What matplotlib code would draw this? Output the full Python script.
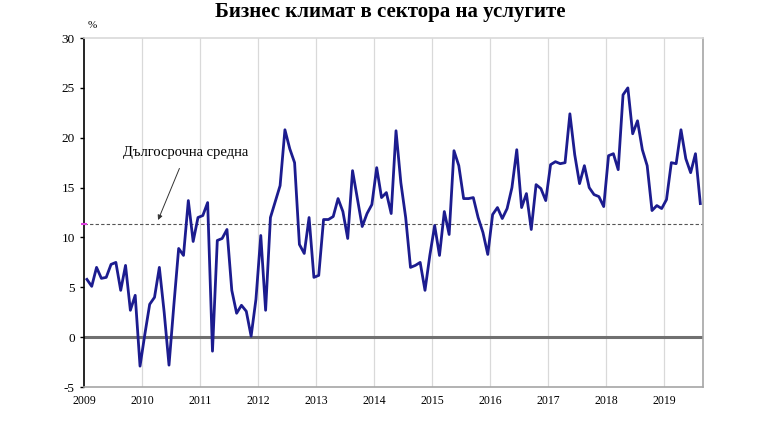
import numpy as np
import matplotlib
matplotlib.use("Agg")
import matplotlib.pyplot as plt

# monthly values, Jan 2009 .. Aug 2019
y2009 = [5.8, 5.1, 7.0, 5.9, 6.0, 7.3, 7.5, 4.7, 7.2, 2.7, 4.2, -2.9]
y2010 = [0.3, 3.3, 4.0, 7.0, 2.5, -2.8, 3.2, 8.9, 8.2, 13.7, 9.6, 12.0]
y2011 = [12.2, 13.5, -1.4, 9.7, 9.9, 10.8, 4.7, 2.4, 3.2, 2.6, 0.1, 3.8]
y2012 = [10.2, 2.7, 12.0, 13.6, 15.2, 20.8, 18.9, 17.5, 9.3, 8.4, 12.0, 6.0]
y2013 = [6.2, 11.8, 11.8, 12.1, 13.9, 12.6, 9.9, 16.7, 13.9, 11.1, 12.4, 13.3]
y2014 = [17.0, 14.0, 14.5, 12.4, 20.7, 15.5, 12.0, 7.0, 7.2, 7.5, 4.7, 8.2]
y2015 = [11.2, 8.2, 12.6, 10.3, 18.7, 17.2, 13.9, 13.9, 14.0, 12.0, 10.5, 8.3]
y2016 = [12.3, 13.0, 11.9, 12.9, 15.0, 18.8, 13.0, 14.4, 10.8, 15.3, 14.9, 13.7]
y2017 = [17.3, 17.6, 17.4, 17.5, 22.4, 18.3, 15.4, 17.2, 15.0, 14.3, 14.1, 13.1]
y2018 = [18.2, 18.4, 16.8, 24.3, 25.0, 20.4, 21.7, 18.8, 17.2, 12.7, 13.2, 12.9]
y2019 = [13.8, 17.5, 17.4, 20.8, 17.9, 16.5, 18.4, 13.4]

long_term_avg = 11.4
years = list(range(2009, 2020))
title = "Бизнес климат в сектора на услугите"
note = "Дългосрочна средна"

values = y2009 + y2010 + y2011 + y2012 + y2013 + y2014 + y2015 + y2016 + y2017 + y2018 + y2019
x = 2009 + (np.arange(len(values)) + 0.5) / 12.0

serif = ["Liberation Serif", "DejaVu Serif"]
plt.rcParams["axes.unicode_minus"] = False

fig = plt.figure(figsize=(7.68, 4.32), dpi=100)
ax = fig.add_axes([0.110, 0.104, 0.805, 0.808])

for yr in years[1:]:
    ax.axvline(yr, color="#d9d9d9", lw=0.9, zorder=0)

ax.axhline(0, color="#707070", lw=2.2, zorder=1)
ax.axhline(long_term_avg, color="#555555", lw=0.8, ls=(0, (3, 2)), zorder=1)
ax.plot(x, values, color="#1c1c8f", lw=2.0, solid_joinstyle="round", zorder=3)
ax.plot([2009], [long_term_avg], marker="_", color="#e040e0", ms=5, mew=1.5,
        clip_on=False, zorder=4)

ax.set_xlim(2009, 2019 + 8 / 12.0)
ax.set_ylim(-5, 30)
ax.set_yticks(range(-5, 31, 5))
ax.set_xticks(years)
ax.set_xticklabels([str(y) for y in years], family=serif, fontsize=8.5)
for lab in ax.get_yticklabels():
    lab.set_family(serif)
    lab.set_fontsize(9.5)

ax.tick_params(axis="x", length=0, pad=6)
ax.tick_params(axis="y", length=3, width=1, direction="out", pad=4)

for side in ["top", "right", "bottom"]:
    ax.spines[side].set_color("#a6a6a6")
    ax.spines[side].set_linewidth(1.2)
ax.spines["top"].set_color("#d9d9d9")
ax.spines["left"].set_color("black")
ax.spines["left"].set_linewidth(1.2)

ax.annotate(note, xy=(2010.27, 11.75), xytext=(2010.75, 18.5),
            ha="center", va="center", family=serif, fontsize=10.5,
            arrowprops=dict(arrowstyle="-|>", color="#333333", lw=0.7,
                            mutation_scale=7, shrinkA=5, shrinkB=0))

fig.text(0.12, 0.942, "%", family=serif, fontsize=8, ha="center", va="center")
fig.text(0.508, 0.972, title, family=serif, fontsize=15, fontweight="bold",
         ha="center", va="center")

fig.savefig("out.png", dpi=100)
